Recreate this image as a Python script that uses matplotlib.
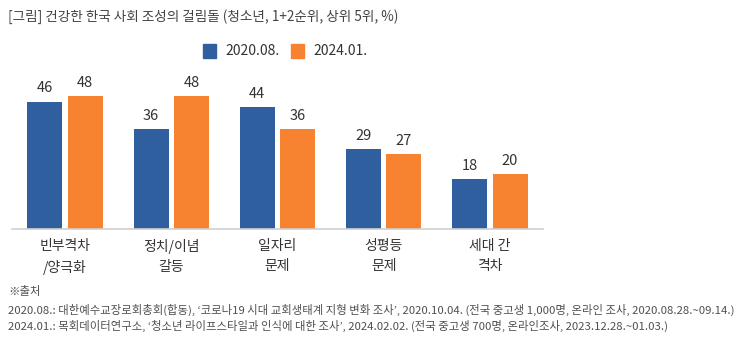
import numpy as np
import matplotlib
matplotlib.use("Agg")
import matplotlib.pyplot as plt
from matplotlib.patches import Rectangle

plt.rcParams['font.family'] = ['Noto Sans CJK KR', 'DejaVu Sans']

categories = ["빈부격차\n/양극화", "정치/이념\n갈등", "일자리\n문제", "성평등\n문제", "세대 간\n격차"]
series_names = ["2020.08.", "2024.01."]
values_2020 = [46, 36, 44, 29, 18]
values_2024 = [48, 48, 36, 27, 20]

title = "[그림] 건강한 한국 사회 조성의 걸림돌 (청소년, 1+2순위, 상위 5위, %)"
source_lines = [
    "※출처",
    "2020.08.: 대한예수교장로회총회(합동), ‘코로나19 시대 교회생태계 지형 변화 조사’, 2020.10.04. (전국 중고생 1,000명, 온라인 조사, 2020.08.28.~09.14.)",
    "2024.01.: 목회데이터연구소, ‘청소년 라이프스타일과 인식에 대한 조사’, 2024.02.02. (전국 중고생 700명, 온라인조사, 2023.12.28.~01.03.)",
]

blue = "#2F5F9F"
orange = "#F7822F"

fig = plt.figure(figsize=(7.5, 3.44), dpi=100)
ax = fig.add_axes([0.016, 0.3343, 0.708, 0.4622])

x = np.arange(len(categories))
w = 0.33
off = 0.19
b1 = ax.bar(x - off, values_2020, w, color=blue)
b2 = ax.bar(x + off, values_2024, w, color=orange)
for bars in (b1, b2):
    for b in bars:
        ax.text(b.get_x() + b.get_width() / 2, b.get_height() + 2.2, f"{b.get_height():g}",
                ha="center", va="bottom", fontsize=10.5, color="#333333")

ax.set_xlim(-0.5, len(categories) - 0.5)
ax.set_ylim(0, 57.4)
ax.set_yticks([])
ax.set_xticks(x)
ax.set_xticklabels(categories, fontsize=10, color="#333333", linespacing=1.6)
ax.tick_params(axis="x", length=0, pad=7)
for s in ("top", "right", "left"):
    ax.spines[s].set_visible(False)
ax.spines["bottom"].set_color("#D0D0D0")
ax.spines["bottom"].set_linewidth(1.2)

fig.text(8 / 750, 1 - 17 / 344, title, fontsize=9.8, color="#444444", va="center", ha="left")

# legend
for px, col, name in ((203, blue, series_names[0]), (291, orange, series_names[1])):
    fig.patches.append(Rectangle((px / 750, 1 - 58 / 344), 13 / 750, 14 / 344,
                                 transform=fig.transFigure, color=col))
    fig.text((px + 22) / 750, 1 - 51 / 344, name, fontsize=10, color="#333333", va="center", ha="left")

ys = [291, 310, 326]
for t, yy in zip(source_lines, ys):
    fig.text(8 / 750, 1 - yy / 344, t, fontsize=8.2, color="#505050", va="center", ha="left")

fig.savefig("out.png", dpi=100)
